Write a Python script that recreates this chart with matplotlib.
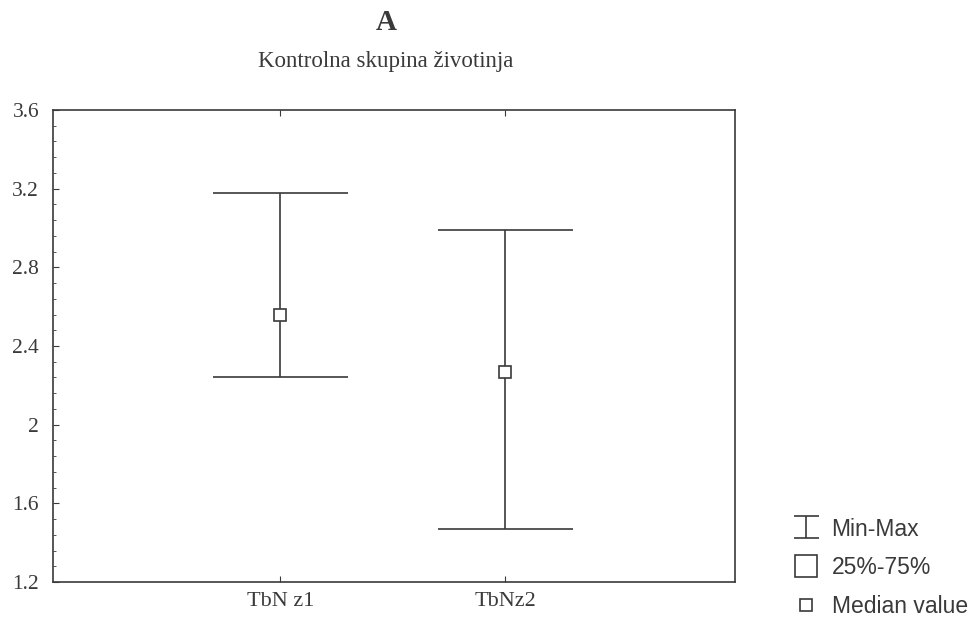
import matplotlib
matplotlib.use('Agg')
import matplotlib.pyplot as plt
from matplotlib.lines import Line2D
from matplotlib.path import Path
from matplotlib.ticker import MultipleLocator

# Data
groups = ['TbN z1', 'TbNz2']
positions = [1, 2]
mins = [2.24, 1.47]
maxs = [3.18, 2.99]
medians = [2.56, 2.27]
yticks = [1.2, 1.6, 2.0, 2.4, 2.8, 3.2, 3.6]
ytick_labels = ['1.2', '1.6', '2', '2.4', '2.8', '3.2', '3.6']

ink = '#3a3a3a'
serif = ['Liberation Serif', 'DejaVu Serif']
sans = ['Liberation Sans', 'DejaVu Sans']

fig = plt.figure(figsize=(9.71, 6.2), dpi=100)
ax = fig.add_axes([53 / 971, 38 / 620, 682 / 971, 472 / 620])

half = 0.3
ax.vlines(positions, mins, maxs, color=ink, lw=1.2)
ax.hlines(mins, [p - half for p in positions], [p + half for p in positions], color=ink, lw=1.2)
ax.hlines(maxs, [p - half for p in positions], [p + half for p in positions], color=ink, lw=1.2)
ax.plot(positions, medians, 's', ms=9, mfc='white', mec=ink, mew=1.2, zorder=3)

ax.set_xlim(-0.01, 3.02)
ax.set_ylim(1.2, 3.6)
ax.set_xticks(positions)
ax.set_xticklabels(groups, fontfamily=serif, fontsize=16, color=ink)
ax.set_yticks(yticks)
ax.set_yticklabels(ytick_labels, fontfamily=serif, fontsize=15.5, color=ink)
ax.yaxis.set_minor_locator(MultipleLocator(0.08))
ax.tick_params(axis='both', which='both', direction='in', top=True, right=False, color=ink)
ax.tick_params(axis='y', which='major', length=4, pad=10)
ax.tick_params(axis='y', which='minor', length=2.5)
ax.tick_params(axis='x', which='major', length=4, pad=7)
for s in ax.spines.values():
    s.set_color(ink)
    s.set_linewidth(1.2)

fig.text(386 / 971, 1 - 22 / 620, 'A', ha='center', va='center', fontfamily=serif,
         fontsize=21, fontweight='bold', color=ink)
fig.text(386 / 971, 1 - 62 / 620, 'Kontrolna skupina životinja', ha='center', va='center',
         fontfamily=serif, fontsize=16.5, color=ink)

# I-beam marker for the legend
ibeam = Path([(-0.5, 0.45), (0.5, 0.45), (0, 0.45), (0, -0.45), (-0.5, -0.45), (0.5, -0.45)],
             [Path.MOVETO, Path.LINETO, Path.MOVETO, Path.LINETO, Path.MOVETO, Path.LINETO])
handles = [
    Line2D([], [], ls='none', marker=ibeam, ms=18, mec=ink, mfc='none', mew=1.2),
    Line2D([], [], ls='none', marker='s', ms=16, mec=ink, mfc='white', mew=1.2),
    Line2D([], [], ls='none', marker='s', ms=8, mec=ink, mfc='white', mew=1.2),
]
fig.legend(handles, ['Min-Max', '25%-75%', 'Median value'], loc='lower left',
           bbox_to_anchor=(772 / 971, -16 / 620), frameon=False, handlelength=1.4,
           handletextpad=0.4, labelspacing=0.68, borderpad=0.3,
           prop={'family': sans, 'size': 16.5}, labelcolor=ink)

fig.savefig('out.png', dpi=100, facecolor='white')
